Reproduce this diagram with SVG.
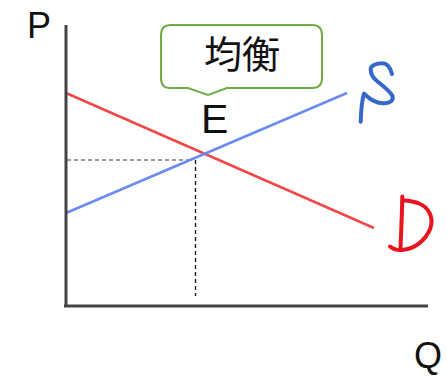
<svg xmlns="http://www.w3.org/2000/svg" width="447" height="377" viewBox="0 0 447 377">
<style>
.lbl{font-family:"Liberation Sans",Arial,sans-serif;fill:#111}
.cjk{font-family:"Noto Sans CJK JP","Noto Sans CJK SC",sans-serif;fill:#111}
.hand{fill:none;stroke-width:4;stroke-linecap:round;stroke-linejoin:round}
</style>
<rect width="447" height="377" fill="#fff"/>
<g id="connectors">
<line x1="67" y1="160" x2="193" y2="160" stroke="#9a9a9a" stroke-width="2" stroke-dasharray="4,3"/>
<line x1="195.5" y1="160" x2="195.5" y2="296" stroke="#111" stroke-width="1.3" stroke-dasharray="4,3"/>
<line id="demand" x1="66" y1="93" x2="374" y2="228" stroke="#F04848" stroke-width="2.5"/>
<line id="supply" x1="66" y1="213" x2="347" y2="93" stroke="#6A8CF0" stroke-width="2.5"/>
</g>
<g id="axes">
<line x1="66" y1="25" x2="66" y2="307" stroke="#444" stroke-width="3"/>
<line x1="64" y1="306" x2="428" y2="306" stroke="#444" stroke-width="3"/>
</g>
<g id="labelP"><text class="lbl" x="27" y="38" font-size="36">P</text></g>
<g id="labelQ"><text class="lbl" x="414" y="368" font-size="36">Q</text></g>
<g id="labelE"><text class="lbl" x="201" y="133" font-size="41">E</text></g>
<g id="callout">
<path d="M171,25 H312 Q322,25 322,35 V78 Q322,88 312,88 H227 L208,95 L188,88 H170 Q161,88 161,78 V35 Q161,25 171,25 Z" fill="#fff" stroke="#70AD47" stroke-width="2"/>
<text class="cjk" x="242" y="68" font-size="38" text-anchor="middle">均衡</text>
</g>
<g id="labelS">
<path class="hand" stroke="#3568C8" d="M392,74 C390,66 386,63 381.5,63.3 C375,63.5 370,66 370.7,70 C371,74 373,78 377,81 C383,86 390,91 392.5,96 C394,101 389,103.5 383,103.3 C377,103 371,100 366.7,96 L364,93.5 C362,100 361,112 360.7,121.7"/>
</g>
<g id="labelD">
<path class="hand" stroke="#E8141E" d="M402.3,196.5 C402,215 401,235 400.5,248 M390,246.5 C393,249 397,250.5 402,250 C415,249 426,240 430.5,228 C434,216 428,207 418,203 C412,201 407,200 403,200.5"/>
</g>
</svg>
